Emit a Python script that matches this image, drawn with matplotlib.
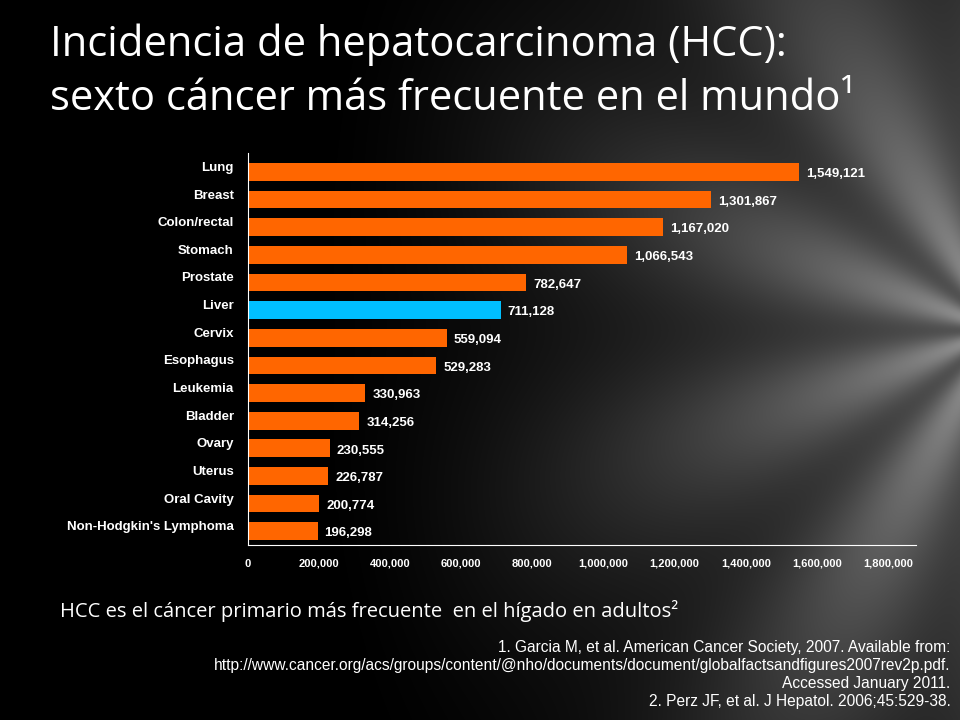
import numpy as np
import matplotlib.pyplot as plt

# Cancer incidence data (worldwide)
cancers = ["Lung", "Breast", "Colon/rectal", "Stomach", "Prostate", "Liver", "Cervix",
           "Esophagus", "Leukemia", "Bladder", "Ovary", "Uterus", "Oral Cavity",
           "Non-Hodgkin's Lymphoma"]
cases = [1549121, 1301867, 1167020, 1066543, 782647, 711128, 559094,
         529283, 330963, 314256, 230555, 226787, 200774, 196298]
highlight = "Liver"
x_ticks = [0, 200000, 400000, 600000, 800000, 1000000, 1200000, 1400000, 1600000, 1800000]

fig = plt.figure(figsize=(9.6, 7.2), dpi=100)
fig.patch.set_facecolor("black")

# background gradient
bg = fig.add_axes([0, 0, 1, 1], zorder=-10)
yy, xx = np.mgrid[0:720, 0:960]
r = np.hypot((xx - 1000) / 1.0, (yy - 330) / 1.4)
g = np.clip(1 - r / 700, 0, 1) ** 1.5 * 0.6
ang = np.arctan2(yy - 330, xx - 1000)
g = g * (0.8 + 0.2 * np.cos(ang * 9))
bg.imshow(np.dstack([g, g, g]), aspect="auto", extent=[0, 1, 0, 1])
bg.axis("off")

fig.text(0.052, 0.938, "Incidencia de hepatocarcinoma (HCC):", color="white",
         fontsize=30, family="Open Sans", va="center")
fig.text(0.052, 0.862, "sexto cáncer más frecuente en el mundo¹", color="white",
         fontsize=30, family="Open Sans", va="center")

ax = fig.add_axes([0.258, 0.243, 0.667, 0.545])
ax.set_facecolor("none")
y = np.arange(len(cancers))
colors = ["#00BFFF" if c == highlight else "#FF6600" for c in cancers]
ax.barh(y, cases, height=0.64, color=colors)
for yi, v in zip(y, cases):
    ax.text(v + 20000, yi + 0.08, f"{v:,}", color="white", fontsize=9.5,
            fontweight="bold", family="Liberation Sans", va="center")
# category labels sit slightly above bar centres
ax.set_yticks(y - 0.2)
ax.set_yticklabels(cancers, fontsize=9.5, fontweight="bold", family="Liberation Sans")
ax.set_ylim(len(cancers) - 0.5, -0.7)
ax.set_xlim(0, 1800000)
ax.set_xticks(x_ticks)
ax.set_xticklabels([f"{t:,}" for t in x_ticks], fontsize=8, fontweight="bold",
                   family="Liberation Sans")
ax.tick_params(colors="white", length=0, pad=10)
ax.tick_params(axis="y", pad=10)
for s in ["top", "right"]:
    ax.spines[s].set_visible(False)
ax.spines["left"].set_color("white")
ax.spines["bottom"].set_color("white")
ax.spines["bottom"].set_bounds(0, 1880000)

fig.text(0.063, 0.152, "HCC es el cáncer primario más frecuente  en el hígado en adultos²",
         color="white", fontsize=14.5, family="Open Sans", va="center")
refs = ("1. Garcia M, et al. American Cancer Society, 2007. Available from:\n"
        "http://www.cancer.org/acs/groups/content/@nho/documents/document/globalfactsandfigures2007rev2p.pdf.\n"
        "Accessed January 2011.\n"
        "2. Perz JF, et al. J Hepatol. 2006;45:529-38.")
fig.text(0.99, 0.015, refs, color="white", fontsize=11.2, family="Liberation Sans",
         ha="right", va="bottom", linespacing=1.25)

fig.savefig("out.png", dpi=100, facecolor="black")
